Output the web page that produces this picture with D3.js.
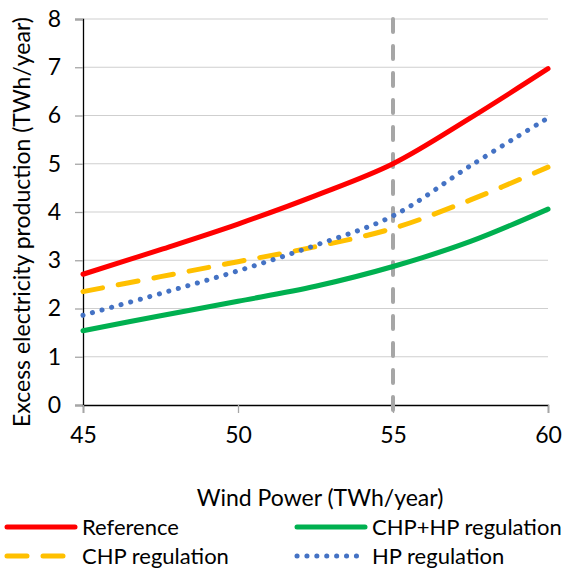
<!DOCTYPE html>
<html>
<head>
  <meta charset="utf-8">
  <title>Excess electricity production</title>
  <script src="https://cdn.jsdelivr.net/npm/d3@7"></script>
  <style>
    body { margin: 0; background: #fff; }
    text { font-family: Lato, "Open Sans", sans-serif; fill: #000; }
  </style>
</head>
<body>
<script>
// data
var windPower = [45, 47.5, 50, 52.5, 55, 57.5, 60];
var reference = [2.71, 3.22, 3.75, 4.34, 5.0, 5.95, 6.97];
var chpReg    = [2.35, 2.66, 2.97, 3.28, 3.66, 4.25, 4.93];
var hpReg     = [1.86, 2.31, 2.78, 3.31, 3.92, 4.96, 5.95];
var chpHpReg  = [1.54, 1.85, 2.15, 2.46, 2.87, 3.39, 4.06];
var xTicks = [45, 50, 55, 60];
var yTicks = [0, 1, 2, 3, 4, 5, 6, 7, 8];
var markerX = 55;

var series = [
  { name: "Reference", values: reference, color: "#ff0000", dash: null },
  { name: "CHP regulation", values: chpReg, color: "#ffc000", dash: "20 16" },
  { name: "HP regulation", values: hpReg, color: "#4472c4", dash: "0.1 9.8" },
  { name: "CHP+HP regulation", values: chpHpReg, color: "#00b050", dash: null }
];

var W = 567, H = 569;
var plotL = 83, plotR = 548, plotT = 19, plotB = 405;
var fs = "23px";

var svg = d3.select("body").append("svg")
  .attr("width", W).attr("height", H);

var x = d3.scaleLinear().domain([45, 60]).range([plotL, plotR]);
var y = d3.scaleLinear().domain([0, 8]).range([plotB, plotT]);

// gridlines
svg.append("g")
  .selectAll("line")
  .data(yTicks.filter(function(d) { return d > 0; }))
  .enter().append("line")
  .attr("x1", plotL).attr("x2", plotR)
  .attr("y1", function(d) { return y(d); })
  .attr("y2", function(d) { return y(d); })
  .attr("stroke", "#cfcfcf").attr("stroke-width", 1);

// axes
var yAxis = svg.append("g")
  .attr("transform", "translate(" + plotL + ",0)")
  .call(d3.axisLeft(y).tickValues(yTicks).tickSize(8).tickPadding(14));
yAxis.select(".domain").attr("stroke", "#000").attr("stroke-width", 1.3);
yAxis.selectAll(".tick line").attr("stroke", "#a6a6a6").attr("stroke-width", 1.3);
yAxis.selectAll("text").style("font-size", fs);

var xAxis = svg.append("g")
  .attr("transform", "translate(0," + plotB + ")")
  .call(d3.axisBottom(x).tickValues(xTicks).tickSize(8).tickPadding(14));
xAxis.select(".domain").attr("stroke", "#000").attr("stroke-width", 1.3);
xAxis.selectAll(".tick line").attr("stroke", "#a6a6a6").attr("stroke-width", 1.3);
xAxis.selectAll("text").style("font-size", fs);

// vertical marker at 55
svg.append("line")
  .attr("x1", x(markerX)).attr("x2", x(markerX))
  .attr("y1", y(8)).attr("y2", plotB + 6)
  .attr("stroke", "#a6a6a6").attr("stroke-width", 4)
  .attr("stroke-dasharray", "13 14")
  .attr("stroke-linecap", "round");

// lines (smoothed like the original)
var line = d3.line()
  .x(function(d, i) { return x(windPower[i]); })
  .y(function(d) { return y(d); })
  .curve(d3.curveCatmullRom.alpha(0.5));

svg.append("g")
  .selectAll("path")
  .data(series)
  .enter().append("path")
  .attr("d", function(s) { return line(s.values); })
  .attr("fill", "none")
  .attr("stroke", function(s) { return s.color; })
  .attr("stroke-width", 5)
  .attr("stroke-dasharray", function(s) { return s.dash; })
  .attr("stroke-linecap", "round");

// axis titles
svg.append("text")
  .attr("x", 320).attr("y", 506)
  .attr("text-anchor", "middle")
  .style("font-size", fs)
  .text("Wind Power (TWh/year)");

svg.append("text")
  .attr("transform", "translate(30,222) rotate(-90)")
  .attr("text-anchor", "middle")
  .style("font-size", fs)
  .text("Excess electricity production (TWh/year)");

// legend
var legendPos = [
  { s: series[0], x: 7, y: 527 },
  { s: series[3], x: 297, y: 527 },
  { s: series[1], x: 7, y: 556 },
  { s: series[2], x: 297, y: 556 }
];
var leg = svg.append("g").selectAll("g").data(legendPos).enter().append("g");
leg.append("line")
  .attr("x1", function(d) { return d.x; })
  .attr("x2", function(d) { return d.x + 68; })
  .attr("y1", function(d) { return d.y; })
  .attr("y2", function(d) { return d.y; })
  .attr("stroke", function(d) { return d.s.color; })
  .attr("stroke-width", 5)
  .attr("stroke-dasharray", function(d) { return d.s.dash; })
  .attr("stroke-linecap", "round");
leg.append("text")
  .attr("x", function(d) { return d.x + 75; })
  .attr("y", function(d) { return d.y + 8; })
  .style("font-size", "22px")
  .text(function(d) { return d.s.name; });
</script>
</body>
</html>
